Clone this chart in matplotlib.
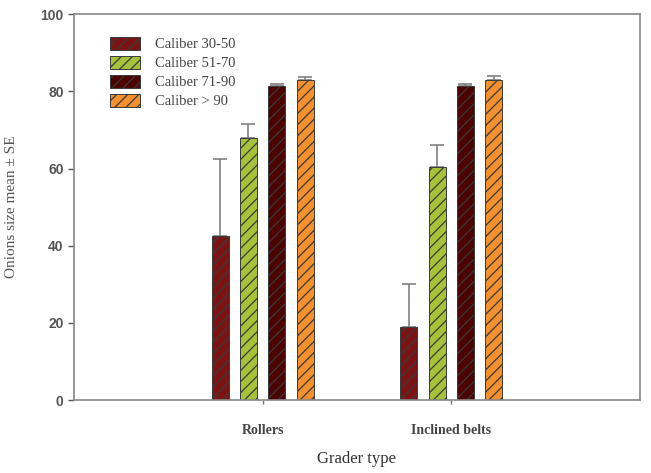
import matplotlib
matplotlib.use("Agg")
import matplotlib.pyplot as plt
import numpy as np

plt.rcParams['hatch.linewidth'] = 0.9

groups = ["Rollers", "Inclined belts"]
series = ["Caliber 30-50", "Caliber 51-70", "Caliber 71-90", "Caliber > 90"]
means = {
    "Caliber 30-50": [42.5, 19.0],
    "Caliber 51-70": [68.0, 60.5],
    "Caliber 71-90": [81.5, 81.5],
    "Caliber > 90": [83.0, 83.0],
}
errors = {
    "Caliber 30-50": [20.0, 11.0],
    "Caliber 51-70": [3.5, 5.5],
    "Caliber 71-90": [0.5, 0.5],
    "Caliber > 90": [0.8, 1.0],
}
colors = ["#7d1414", "#a6c23a", "#4d0202", "#f4902e"]

fig = plt.figure(figsize=(6.51, 4.73), dpi=100)
ax = fig.add_axes([0.1137, 0.154, 0.869, 0.816])

x = np.arange(1, len(groups) + 1)
width = 0.09
offsets = [-0.225, -0.075, 0.075, 0.225]
for name, col, off in zip(series, colors, offsets):
    ax.bar(x + off, means[name], width, color=col, edgecolor="#3a3a3a",
           linewidth=0.7, hatch="///", label=name, zorder=2)
    ax.errorbar(x + off, means[name], yerr=[np.zeros(len(groups)), errors[name]],
                fmt="none", ecolor="#808080", elinewidth=1.2, capsize=5,
                capthick=1.2, zorder=1)

ax.set_xlim(0, 3)
ax.set_ylim(0, 100)
ax.set_xticks(x)
ax.set_xticklabels(groups, fontfamily="Liberation Serif", fontsize=10,
                   fontweight="bold", color="#444444")
ax.set_yticks([0, 20, 40, 60, 80, 100])
ax.tick_params(axis="y", labelsize=10, colors="#555555", length=4, width=1)
ax.tick_params(axis="x", length=3, width=1, color="#777777", pad=14)
for lab in ax.get_yticklabels():
    lab.set_fontfamily("Liberation Sans")
    lab.set_fontweight("bold")
    lab.set_color("#555555")
for sp in ax.spines.values():
    sp.set_color("#888888")
    sp.set_linewidth(1.2)

ax.set_xlabel("Grader type", fontfamily="Liberation Serif", fontsize=12,
              color="#333333", labelpad=10)
ax.set_ylabel("Onions size mean \u00b1 SE", fontfamily="Liberation Serif",
              fontsize=11, color="#555555", labelpad=16)

leg = ax.legend(loc="upper left", bbox_to_anchor=(0.04, 0.975), frameon=False,
                prop={"family": "Liberation Serif", "size": 10.5},
                handlelength=2.1, handleheight=1.0, labelspacing=0.3,
                handletextpad=1.0)
for t in leg.get_texts():
    t.set_color("#444444")

fig.savefig("out.png", dpi=100)
